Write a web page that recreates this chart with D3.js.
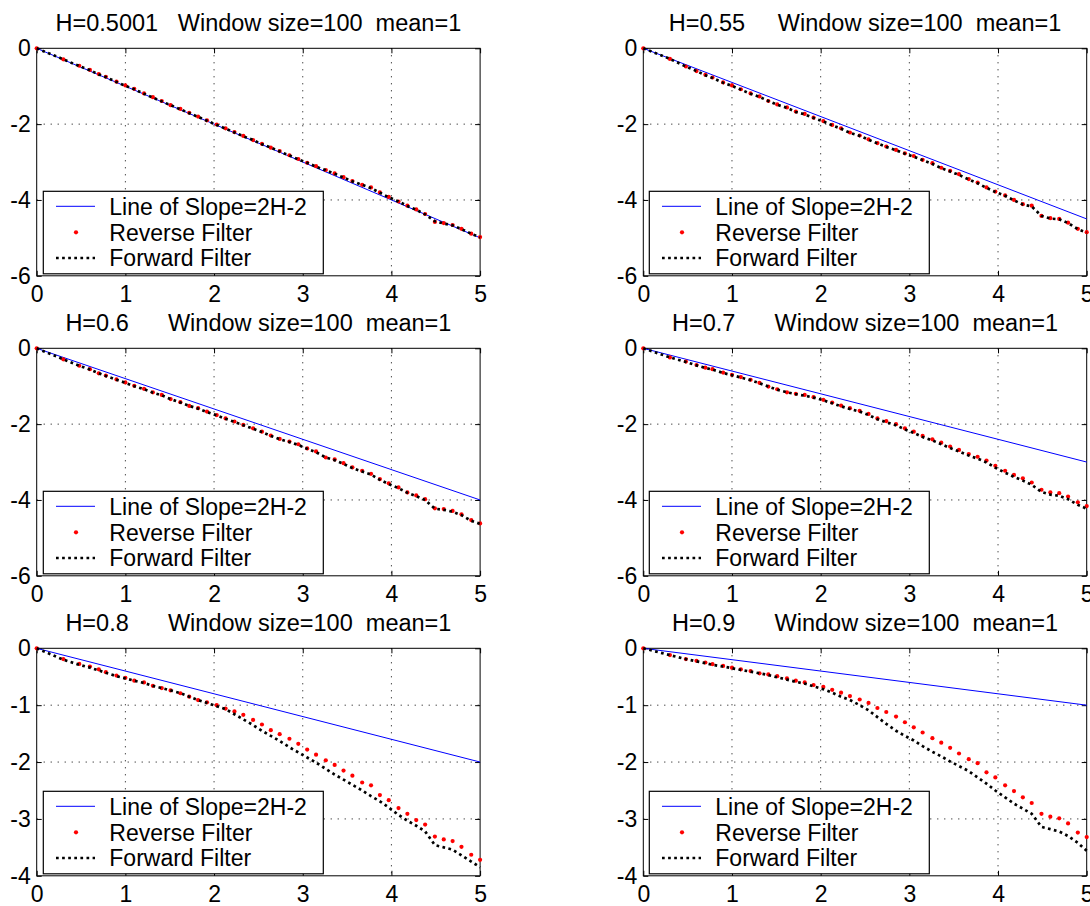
<!DOCTYPE html>
<html>
<head>
<meta charset="utf-8">
<script src="https://cdn.jsdelivr.net/npm/d3@7"></script>
<style>
  body { margin: 0; background: #fff; }
  svg { display: block; font-family: Arial, "Liberation Sans", sans-serif; }
  .title { white-space: pre; }
</style>
</head>
<body>
<svg id="chart" width="1090" height="906"></svg>
<script>
// log10 of the window sizes (x axis)
const xs = [0, 0.3, 0.48, 0.6, 0.7, 0.78, 0.9,
  1.0, 1.1, 1.21, 1.31, 1.41, 1.51, 1.62, 1.72, 1.82, 1.92,
  2.03, 2.13, 2.23, 2.33, 2.44, 2.54, 2.64, 2.74, 2.85, 2.95,
  3.05, 3.15, 3.26, 3.36, 3.46, 3.56, 3.67, 3.77, 3.87, 3.97,
  4.08, 4.18, 4.28, 4.38, 4.49, 4.59, 4.69, 4.79, 4.9, 5.0];

const titles = [
  "H=0.5001   Window size=100  mean=1",
  "H=0.55     Window size=100  mean=1",
  "H=0.6      Window size=100  mean=1",
  "H=0.7      Window size=100  mean=1",
  "H=0.8      Window size=100  mean=1",
  "H=0.9      Window size=100  mean=1"
];

// end of the reference line (slope 2H-2) at x=5
const lineX = [0, 5];
const lineEnd = [-4.999, -4.5, -4, -3, -2, -1];

const legendLabels = ["Line of Slope=2H-2", "Reverse Filter", "Forward Filter"];

const xTicks = [0, 1, 2, 3, 4, 5];
const yTicks6 = [0, -2, -4, -6];
const yTicks4 = [0, -1, -2, -3, -4];

// H=0.5001
const reverse1 = [0, -0.29, -0.46, -0.57, -0.68, -0.75, -0.88, -0.98, -1.07, -1.19, -1.29, -1.39, -1.50, -1.60, -1.70, -1.80, -1.90, -2.01, -2.11, -2.21, -2.31, -2.42, -2.52, -2.62, -2.71, -2.82, -2.92, -3.02, -3.11, -3.21, -3.30, -3.40, -3.50, -3.60, -3.67, -3.80, -3.92, -4.04, -4.15, -4.25, -4.37, -4.58, -4.61, -4.66, -4.76, -4.89, -4.98];
const forward1 = [0, -0.29, -0.47, -0.58, -0.69, -0.76, -0.89, -0.99, -1.08, -1.20, -1.30, -1.40, -1.50, -1.61, -1.71, -1.81, -1.91, -2.02, -2.12, -2.22, -2.32, -2.42, -2.53, -2.62, -2.72, -2.83, -2.93, -3.02, -3.12, -3.22, -3.31, -3.41, -3.51, -3.60, -3.69, -3.81, -3.93, -4.04, -4.16, -4.26, -4.38, -4.56, -4.62, -4.67, -4.77, -4.89, -4.99];
// H=0.55
const reverse2 = [0, -0.28, -0.48, -0.60, -0.70, -0.77, -0.90, -0.98, -1.08, -1.19, -1.27, -1.39, -1.48, -1.56, -1.67, -1.73, -1.83, -1.92, -2.02, -2.11, -2.22, -2.30, -2.40, -2.50, -2.59, -2.68, -2.77, -2.84, -2.94, -3.03, -3.15, -3.23, -3.32, -3.45, -3.54, -3.67, -3.78, -3.88, -4.00, -4.11, -4.15, -4.42, -4.48, -4.50, -4.60, -4.76, -4.85];
const forward2 = [0, -0.28, -0.48, -0.60, -0.71, -0.78, -0.91, -0.99, -1.09, -1.20, -1.28, -1.39, -1.49, -1.57, -1.68, -1.74, -1.84, -1.93, -2.03, -2.12, -2.23, -2.31, -2.41, -2.51, -2.60, -2.69, -2.78, -2.86, -2.95, -3.05, -3.16, -3.25, -3.34, -3.46, -3.56, -3.68, -3.79, -3.89, -4.01, -4.12, -4.17, -4.42, -4.49, -4.51, -4.61, -4.77, -4.86];
// H=0.6
const reverse3 = [0, -0.29, -0.46, -0.55, -0.66, -0.72, -0.82, -0.90, -0.99, -1.07, -1.16, -1.23, -1.34, -1.42, -1.52, -1.58, -1.67, -1.76, -1.85, -1.93, -2.02, -2.11, -2.20, -2.30, -2.39, -2.46, -2.53, -2.64, -2.72, -2.88, -2.93, -3.03, -3.14, -3.23, -3.31, -3.45, -3.56, -3.67, -3.80, -3.88, -3.98, -4.22, -4.24, -4.29, -4.38, -4.53, -4.62];
const forward3 = [0, -0.29, -0.46, -0.56, -0.66, -0.73, -0.83, -0.91, -1.00, -1.08, -1.17, -1.24, -1.34, -1.43, -1.52, -1.59, -1.68, -1.77, -1.86, -1.94, -2.03, -2.12, -2.21, -2.31, -2.40, -2.47, -2.55, -2.65, -2.74, -2.88, -2.95, -3.05, -3.16, -3.25, -3.33, -3.47, -3.58, -3.69, -3.81, -3.90, -4.00, -4.23, -4.26, -4.31, -4.40, -4.55, -4.63];
// H=0.7
const reverse4 = [0, -0.24, -0.35, -0.44, -0.51, -0.55, -0.64, -0.70, -0.76, -0.83, -0.91, -1.01, -1.08, -1.16, -1.20, -1.23, -1.29, -1.36, -1.43, -1.51, -1.58, -1.65, -1.73, -1.85, -1.92, -2.00, -2.11, -2.20, -2.31, -2.40, -2.49, -2.59, -2.68, -2.79, -2.86, -2.96, -3.10, -3.23, -3.34, -3.43, -3.54, -3.73, -3.80, -3.82, -3.91, -4.06, -4.16];
const forward4 = [0, -0.24, -0.36, -0.45, -0.52, -0.56, -0.65, -0.71, -0.77, -0.84, -0.92, -1.01, -1.09, -1.16, -1.21, -1.25, -1.30, -1.37, -1.45, -1.53, -1.60, -1.67, -1.76, -1.87, -1.95, -2.03, -2.14, -2.23, -2.34, -2.43, -2.53, -2.63, -2.72, -2.83, -2.91, -3.01, -3.15, -3.28, -3.39, -3.49, -3.60, -3.79, -3.86, -3.89, -3.98, -4.13, -4.23];
// H=0.8
const reverse5 = [0, -0.19, -0.275, -0.32, -0.37, -0.42, -0.48, -0.52, -0.57, -0.60, -0.66, -0.70, -0.74, -0.79, -0.85, -0.91, -0.95, -1.00, -1.06, -1.11, -1.17, -1.26, -1.34, -1.44, -1.51, -1.59, -1.68, -1.78, -1.87, -1.97, -2.05, -2.15, -2.24, -2.36, -2.41, -2.58, -2.67, -2.81, -2.91, -3.02, -3.10, -3.31, -3.36, -3.39, -3.49, -3.63, -3.72];
const forward5 = [0, -0.20, -0.29, -0.34, -0.39, -0.43, -0.49, -0.53, -0.57, -0.61, -0.66, -0.70, -0.74, -0.79, -0.85, -0.91, -0.96, -1.02, -1.07, -1.16, -1.25, -1.35, -1.45, -1.54, -1.63, -1.74, -1.83, -1.92, -2.01, -2.12, -2.22, -2.31, -2.40, -2.50, -2.60, -2.69, -2.80, -2.93, -3.03, -3.12, -3.22, -3.46, -3.50, -3.54, -3.64, -3.75, -3.85];
// H=0.9
const reverse6 = [0, -0.12, -0.19, -0.22, -0.25, -0.28, -0.31, -0.34, -0.37, -0.40, -0.44, -0.46, -0.49, -0.53, -0.57, -0.60, -0.645, -0.68, -0.73, -0.78, -0.84, -0.90, -0.96, -1.05, -1.12, -1.20, -1.30, -1.39, -1.48, -1.58, -1.66, -1.75, -1.85, -1.95, -2.02, -2.18, -2.27, -2.41, -2.51, -2.62, -2.72, -2.91, -2.96, -2.99, -3.08, -3.24, -3.32];
const forward6 = [0, -0.12, -0.19, -0.23, -0.26, -0.29, -0.32, -0.35, -0.38, -0.41, -0.44, -0.47, -0.51, -0.55, -0.59, -0.62, -0.67, -0.72, -0.78, -0.85, -0.91, -1.00, -1.09, -1.21, -1.33, -1.45, -1.54, -1.62, -1.72, -1.82, -1.90, -1.99, -2.07, -2.16, -2.27, -2.38, -2.50, -2.62, -2.73, -2.82, -2.91, -3.14, -3.18, -3.22, -3.30, -3.42, -3.56];

const reverseAll = [reverse1, reverse2, reverse3, reverse4, reverse5, reverse6];
const forwardAll = [forward1, forward2, forward3, forward4, forward5, forward6];
const yTicksAll = [yTicks6, yTicks6, yTicks6, yTicks6, yTicks4, yTicks4];

// layout
const colX = [36.7, 643.3];
const rowY = [48.3, 348.3, 648.3];
const W = 443.4, H = 227.5;
const fontSize = 23;

const svg = d3.select("#chart");

titles.forEach(function (title, i) {
    const left = colX[i % 2];
    const top = rowY[Math.floor(i / 2)];
    const yTicks = yTicksAll[i];

    const x = d3.scaleLinear().domain([0, 5]).range([0, W]);
    const y = d3.scaleLinear().domain([d3.min(yTicks), 0]).range([H, 0]);

    const g = svg.append("g").attr("transform", `translate(${left},${top})`);

    // dotted grid
    g.selectAll(".vgrid")
        .data(xTicks.slice(1, -1))
        .enter().append("line")
        .attr("x1", d => x(d)).attr("x2", d => x(d))
        .attr("y1", 0).attr("y2", H)
        .attr("stroke", "#000").attr("stroke-width", 1)
        .attr("stroke-dasharray", "1,6");
    g.selectAll(".hgrid")
        .data(yTicks.slice(1, -1))
        .enter().append("line")
        .attr("y1", d => y(d)).attr("y2", d => y(d))
        .attr("x1", 0).attr("x2", W)
        .attr("stroke", "#000").attr("stroke-width", 1)
        .attr("stroke-dasharray", "1,6");

    // axes, ticks inside
    const fmt = d => String(d);
    g.append("g").attr("transform", `translate(0,${H})`)
        .call(d3.axisBottom(x).tickValues(xTicks).tickFormat(fmt).tickSize(-5).tickSizeOuter(0).tickPadding(9.8));
    g.append("g")
        .call(d3.axisTop(x).tickValues(xTicks).tickFormat("").tickSize(-5).tickSizeOuter(0));
    g.append("g")
        .call(d3.axisLeft(y).tickValues(yTicks).tickFormat(fmt).tickSize(-5).tickSizeOuter(0).tickPadding(6));
    g.append("g").attr("transform", `translate(${W},0)`)
        .call(d3.axisRight(y).tickValues(yTicks).tickFormat("").tickSize(-5).tickSizeOuter(0));
    g.selectAll(".domain").remove();
    g.selectAll(".tick line").attr("stroke", "#000");
    g.selectAll(".tick text")
        .attr("fill", "#000")
        .style("font-size", fontSize + "px")
        .style("font-family", "Arial, 'Liberation Sans', sans-serif");

    g.append("rect")
        .attr("x", 0).attr("y", 0).attr("width", W).attr("height", H)
        .attr("fill", "none").attr("stroke", "#000").attr("stroke-width", 1);

    // title
    g.append("text")
        .attr("class", "title")
        .attr("x", W / 2).attr("y", -17.6)
        .attr("text-anchor", "middle")
        .style("font-size", "23.5px")
        .text(title);

    // line of slope 2H-2
    const ref = [[lineX[0], 0], [lineX[1], lineEnd[i]]];
    g.append("path")
        .datum(ref)
        .attr("d", d3.line().x(d => x(d[0])).y(d => y(d[1])))
        .attr("fill", "none").attr("stroke", "#0000ff").attr("stroke-width", 1);

    // reverse filter dots
    const rev = reverseAll[i];
    g.selectAll(".rev")
        .data(xs)
        .enter().append("circle")
        .attr("cx", d => x(d))
        .attr("cy", (d, k) => y(rev[k]))
        .attr("r", 2.1)
        .attr("fill", "#ff0000");

    // forward filter dotted line
    const fwd = forwardAll[i];
    g.append("path")
        .datum(xs)
        .attr("d", d3.line().x(d => x(d)).y((d, k) => y(fwd[k])))
        .attr("fill", "none").attr("stroke", "#000")
        .attr("stroke-width", 2.7).attr("stroke-dasharray", "2.7,3.4");

    // legend
    const lg = g.append("g").attr("transform", `translate(${i % 2 ? 6 : 6.6},${H - 84.5})`);
    lg.append("rect")
        .attr("width", 280).attr("height", 82.5)
        .attr("fill", "#fff").attr("stroke", "#000").attr("stroke-width", 1.2);
    const rowMid = [15, 41, 66.7];
    lg.append("line")
        .attr("x1", 12.7).attr("x2", 51.7).attr("y1", rowMid[0]).attr("y2", rowMid[0])
        .attr("stroke", "#0000ff").attr("stroke-width", 1);
    lg.append("circle")
        .attr("cx", 32.7).attr("cy", rowMid[1]).attr("r", 2.1).attr("fill", "#ff0000");
    lg.append("line")
        .attr("x1", 12.7).attr("x2", 51.7).attr("y1", rowMid[2]).attr("y2", rowMid[2])
        .attr("stroke", "#000").attr("stroke-width", 2.7).attr("stroke-dasharray", "2.7,3.4");
    lg.selectAll(".lbl")
        .data(legendLabels)
        .enter().append("text")
        .attr("x", 66).attr("y", (d, k) => rowMid[k] + 8.3)
        .style("font-size", fontSize + "px")
        .text(d => d);
});
</script>
</body>
</html>
